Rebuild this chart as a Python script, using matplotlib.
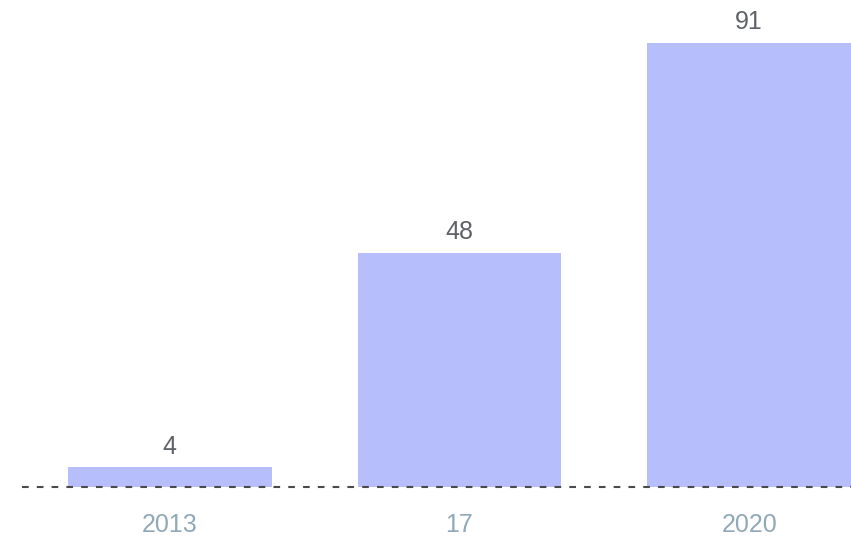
import matplotlib
matplotlib.use("Agg")
import matplotlib.pyplot as plt

categories = ["2013", "17", "2020"]
values = [4, 48, 91]

bar_color = "#b6befb"
label_color = "#5f6368"
tick_color = "#8fa9b8"

plt.rcParams['font.family'] = ['Liberation Sans', 'DejaVu Sans']

W, H = 851, 537
fig = plt.figure(figsize=(W / 100, H / 100), dpi=100)
ax = fig.add_axes([22 / W, 50 / H, 829 / W, 487 / H])

x = list(range(len(categories)))
ax.bar(x, values, width=0.703, color=bar_color, zorder=1)
ax.set_xlim(-0.5103, 2.3517)
ax.set_ylim(0, 99.8)

ax.axhline(0, color="#4a4a4a", lw=1.5, linestyle=(0, (3.2, 3.9)), zorder=3, clip_on=False)

for xi, v in zip(x, values):
    ax.annotate(str(v), (xi, v), xytext=(0, 15), textcoords="offset points",
                ha="center", va="center", fontsize=18, color=label_color)

ax.set_xticks(x)
ax.set_xticklabels(categories, fontsize=18, color=tick_color)
ax.tick_params(axis="x", length=0, pad=18.5)
ax.set_yticks([])
for s in ax.spines.values():
    s.set_visible(False)

fig.savefig("out.png", dpi=100)
